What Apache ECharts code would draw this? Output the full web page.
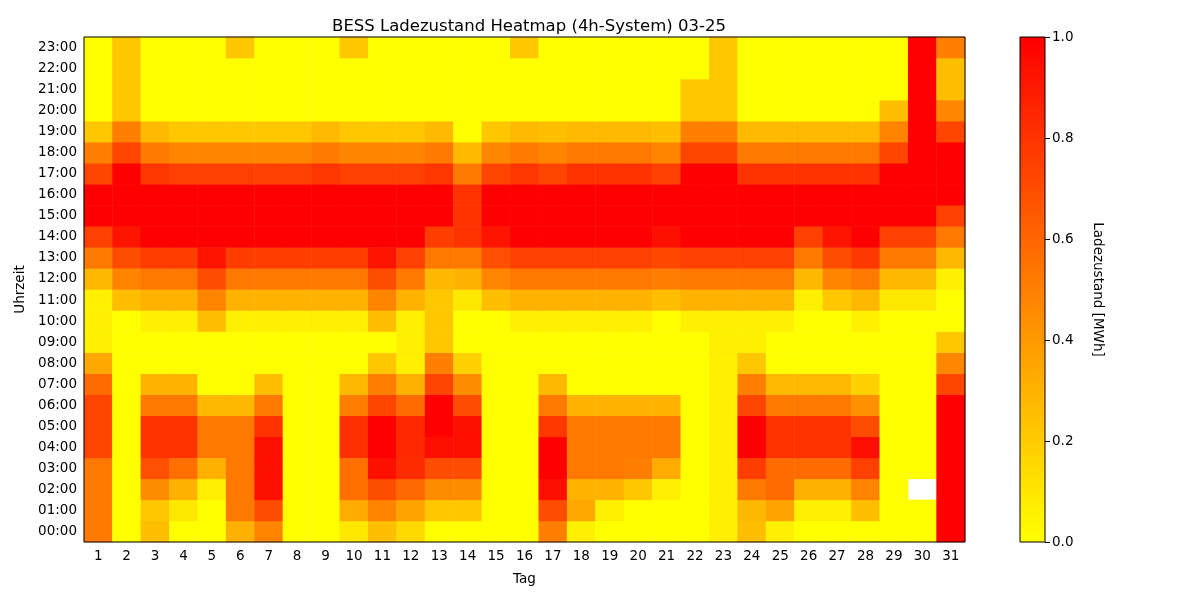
<!DOCTYPE html>
<html>
<head>
<meta charset="utf-8">
<script src="https://cdn.jsdelivr.net/npm/echarts@6/dist/echarts.min.js"></script>
<style>html,body{margin:0;padding:0;background:#fff}#c{width:1200px;height:600px}</style>
</head>
<body>
<div id="c"></div>
<script>
const days = Array.from({length:31},(_,i)=>String(i+1));
const hours = ['00:00','01:00','02:00','03:00','04:00','05:00','06:00','07:00','08:00','09:00','10:00','11:00','12:00','13:00','14:00','15:00','16:00','17:00','18:00','19:00','20:00','21:00','22:00','23:00'];
const colorMin = 0, colorMax = 1, colorStep = 0.2;

const h00 = [.53,0,.25,0,0,.31,.48,0,0,.09,.25,.15,0,0,0,0,.5,.06,0,0,0,0,.06,.25,.06,0,0,0,0,0,1];
const h01 = [.53,0,.22,.09,0,.53,.7,0,0,.33,.48,.36,.22,.22,0,0,.7,.34,.06,0,0,0,.06,.28,.36,.06,.06,.25,0,0,1];
const h02 = [.53,0,.45,.31,.06,.53,.94,0,0,.56,.7,.59,.45,.45,0,0,.94,.3,.3,.22,.06,0,.06,.53,.58,.31,.31,.48,0,null,1];
const h03 = [.53,0,.69,.56,.31,.53,.94,0,0,.56,.94,.83,.7,.7,0,0,1,.53,.53,.5,.33,0,.06,.76,.58,.58,.58,.75,0,0,1];
const h04 = [.73,0,.8,.8,.53,.53,.94,0,0,.81,1,.84,.94,.94,0,0,1,.53,.53,.53,.53,0,.06,1,.8,.8,.8,.95,0,0,1];
const h05 = [.73,0,.8,.8,.53,.53,.8,0,0,.81,1,.84,1,.94,0,0,.78,.53,.53,.53,.53,0,.06,1,.8,.8,.8,.7,0,0,1];
const h06 = [.73,0,.53,.53,.28,.28,.53,0,0,.51,.73,.58,1,.7,0,0,.53,.3,.3,.3,.3,0,.06,.73,.53,.53,.53,.43,0,0,1];
const h07 = [.58,0,.3,.3,0,0,.25,0,0,.28,.5,.31,.73,.45,0,0,.28,0,0,0,0,0,.06,.5,.27,.27,.27,.18,0,0,.73];
const h08 = [.34,0,0,0,0,0,0,0,0,0,.22,.06,.5,.18,0,0,0,0,0,0,0,0,.06,.22,0,0,0,0,0,0,.47];
const h09 = [.06,0,0,0,0,0,0,0,0,0,0,.06,.22,0,0,0,0,0,0,0,0,0,.06,.06,0,0,0,0,0,0,.22];
const h10 = [.06,0,.06,.06,.25,.06,.06,.06,.06,.06,.25,.06,.22,0,0,.06,.06,.06,.06,.06,0,.06,.06,.06,.06,0,0,.06,0,0,0];
const h11 = [.06,.25,.3,.3,.48,.3,.3,.3,.3,.3,.48,.3,.22,.09,.25,.3,.3,.3,.3,.3,.25,.3,.3,.3,.3,.06,.22,.28,.09,.09,0];
const h12 = [.28,.48,.53,.53,.7,.53,.53,.53,.53,.53,.7,.53,.28,.31,.47,.53,.53,.53,.53,.53,.51,.53,.53,.53,.53,.28,.48,.53,.28,.28,.06];
const h13 = [.53,.7,.76,.76,.92,.76,.76,.76,.76,.76,.92,.75,.53,.53,.69,.75,.75,.75,.75,.75,.72,.75,.75,.75,.75,.53,.7,.78,.53,.53,.28];
const h14 = [.75,.92,1,1,1,1,1,1,1,1,1,1,.76,.8,.92,1,1,1,1,1,.94,1,1,1,1,.75,.92,1,.75,.75,.53];
const h15 = [1,1,1,1,1,1,1,1,1,1,1,1,1,.8,1,1,1,1,1,1,1,1,1,1,1,1,1,1,1,1,.75];
const h16 = [1,1,1,1,1,1,1,1,1,1,1,1,1,.8,1,1,1,1,1,1,1,1,1,1,1,1,1,1,1,1,1];
const h17 = [.73,1,.79,.75,.75,.75,.75,.75,.79,.75,.75,.75,.79,.53,.73,.79,.73,.8,.8,.8,.75,1,1,.8,.8,.8,.8,.8,1,1,1];
const h18 = [.5,.73,.52,.48,.48,.48,.48,.48,.52,.48,.48,.48,.52,.27,.47,.52,.48,.53,.53,.53,.48,.73,.73,.53,.53,.53,.53,.53,.73,1,1];
const h19 = [.22,.5,.27,.22,.22,.22,.22,.22,.27,.22,.22,.22,.27,0,.22,.27,.25,.27,.27,.27,.25,.5,.5,.27,.27,.27,.27,.27,.48,1,.73];
const h20 = [0,.22,0,0,0,0,0,0,0,0,0,0,0,0,0,0,0,0,0,0,0,.22,.22,0,0,0,0,0,.25,1,.47];
const h21 = [0,.22,0,0,0,0,0,0,0,0,0,0,0,0,0,0,0,0,0,0,0,.22,.22,0,0,0,0,0,0,1,.25];
const h22 = [0,.22,0,0,0,0,0,0,0,0,0,0,0,0,0,0,0,0,0,0,0,0,.22,0,0,0,0,0,0,1,.25];
const h23 = [0,.22,0,0,0,.22,0,0,0,.22,0,0,0,0,0,.22,0,0,0,0,0,0,.22,0,0,0,0,0,0,1,.5];

const rows = [h00,h01,h02,h03,h04,h05,h06,h07,h08,h09,h10,h11,h12,h13,h14,h15,h16,h17,h18,h19,h20,h21,h22,h23];
const data = [];
rows.forEach((row, y) => row.forEach((v, x) => { if (v !== null) data.push([x, y, v]); }));

const FONT = 'DejaVu Sans';
const chart = echarts.init(document.getElementById('c'), null, {renderer: 'canvas'});
chart.setOption({
  animation: false,
  backgroundColor: '#fff',
  textStyle: {fontFamily: FONT, color: '#000'},
  title: {
    text: 'BESS Ladezustand Heatmap (4h-System) 03-25',
    left: 524, top: 13, textAlign: 'center',
    textStyle: {fontFamily: FONT, fontSize: 16.5, fontWeight: 'normal', color: '#000'}
  },
  grid: [
    {left: 84, right: 235, top: 37, bottom: 58, show: true, borderColor: '#000', borderWidth: 1, backgroundColor: 'transparent', z: 5},
    {left: 1020, width: 25, top: 37, height: 505, show: true, borderColor: '#000', borderWidth: 1, backgroundColor: 'transparent', z: 10}
  ],
  xAxis: [
    {type: 'category', data: days, gridIndex: 0, splitArea: {show: false},
     axisLine: {show: false}, axisTick: {alignWithLabel: true, length: 5, lineStyle: {color: '#000'}},
     axisLabel: {fontFamily: FONT, fontSize: 13.5, color: '#000', margin: 7},
     name: 'Tag', nameLocation: 'middle', nameGap: 30, nameTextStyle: {fontFamily: FONT, fontSize: 13.5, color: '#000'}},
    {type: 'category', data: ['cb'], gridIndex: 1, show: false}
  ],
  yAxis: [
    {type: 'category', data: hours, gridIndex: 0, splitArea: {show: false},
     axisLine: {show: false}, axisTick: {alignWithLabel: true, length: 5, lineStyle: {color: '#000'}},
     axisLabel: {fontFamily: FONT, fontSize: 13.5, color: '#000', margin: 7},
     name: 'Uhrzeit', nameLocation: 'middle', nameGap: 57, nameRotate: 90, nameTextStyle: {fontFamily: FONT, fontSize: 13.5, color: '#000'}},
    {type: 'value', gridIndex: 1, position: 'right', min: colorMin, max: colorMax, interval: colorStep,
     axisLine: {show: false}, splitLine: {show: false},
     axisTick: {show: true, length: 5, lineStyle: {color: '#000'}},
     axisLabel: {fontFamily: FONT, fontSize: 13.5, color: '#000', margin: 7, formatter: v => v.toFixed(1)},
     name: 'Ladezustand [MWh]', nameLocation: 'middle', nameGap: 45, nameRotate: -90,
     nameTextStyle: {fontFamily: FONT, fontSize: 13.5, color: '#000'}}
  ],
  visualMap: {
    type: 'continuous', min: colorMin, max: colorMax, seriesIndex: 0, show: false,
    inRange: {color: ['#ffff00', '#ff0000']}
  },
  series: [
    {type: 'heatmap', xAxisIndex: 0, yAxisIndex: 0, data: data,
     itemStyle: {borderWidth: 0}, emphasis: {disabled: true}, progressive: 0},
    {type: 'bar', xAxisIndex: 1, yAxisIndex: 1, data: [colorMax], barWidth: '100%', silent: true,
     itemStyle: {color: new echarts.graphic.LinearGradient(0, 1, 0, 0, [
       {offset: 0, color: '#ffff00'}, {offset: 1, color: '#ff0000'}])}}
  ]
});
</script>
</body>
</html>
